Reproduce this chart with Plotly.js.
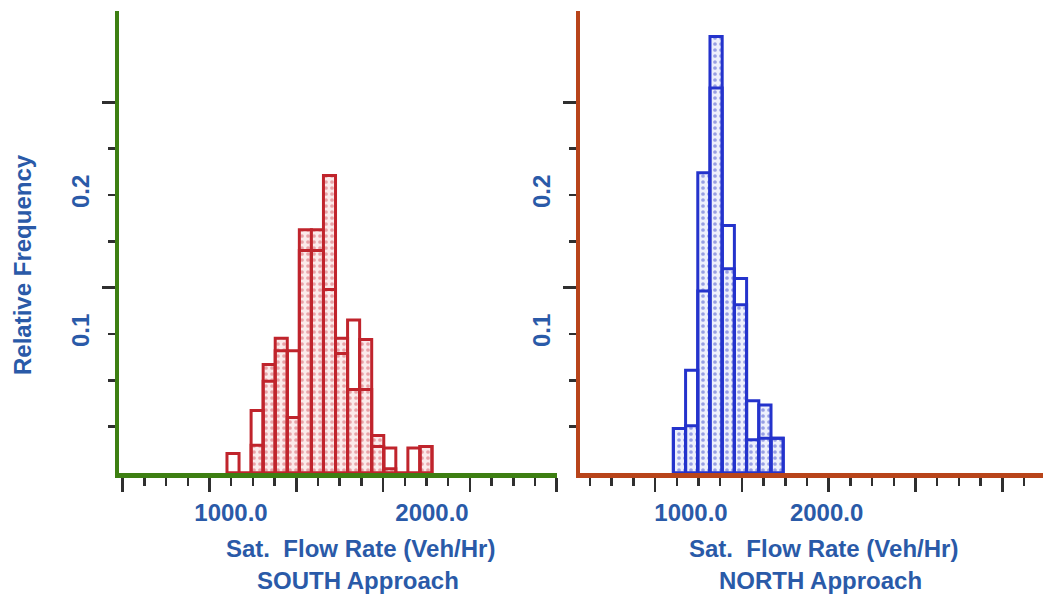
<!DOCTYPE html>
<html><head><meta charset="utf-8">
<script src="https://cdn.plot.ly/plotly-3.0.1.min.js"></script>
<style>html,body{margin:0;padding:0;background:#fff}#chart{width:1043px;height:597px}</style>
</head><body><div id="chart"></div>
<script>
// ---------------- data ----------------
// SOUTH approach: bin centres (veh/hr) and relative frequencies
const southBinCenters = [1010,1070,1130,1190,1250,1310,1370,1430,1490,1550,1610,1670,1730,1790,1850,1910,1970];
const southOutline    = [0.014,0,0.045,0.066,0.088,0.088,0.160,0.160,0.132,0.086,0.110,0.060,0.019,0.018,0,0.018,0.019];
const southStippled   = [0,0,0.020,0.078,0.097,0.040,0.175,0.175,0.214,0.097,0.060,0.096,0.027,0.003,0,0,0.019];
// NORTH approach
const northBinCenters = [915,1005,1095,1185,1275,1365,1455,1545,1635];
const northOutline    = [0.032,0.074,0.131,0.277,0.178,0.140,0.052,0.025,0.025];
const northStippled   = [0.032,0.034,0.216,0.314,0.147,0.121,0.024,0.049,0.025];
// tick labels
const xTickValues = [1000, 2000];
const xTickLabels = ['1000.0', '2000.0'];
const yTickValues = [0.1, 0.2];
const yTickLabels = ['0.1', '0.2'];
const yTitle = 'Relative Frequency';
const xTitle = 'Sat.\u00A0 Flow Rate (Veh/Hr)';
const southName = 'SOUTH Approach';
const northName = 'NORTH Approach';
const southBinWidth = 60;
const northBinWidth = 90;

// ---------------- style ----------------
const W = 1043, H = 597;
const fx = v => v / W;
const fy = v => 1 - v / H;
const txtColor = '#2a5aa8';
const bigFont = {family: '"Liberation Sans", Arial, sans-serif', size: 24, color: txtColor, weight: 700};
const green = '#3d7f12', rust = '#b8441a', tickCol = '#2f2f2f';
const red = '#c0242c', blue = '#2433cc';

function stippleTrace(x, y, w, xa, ya, line, fg, bg) {
  return {type: 'bar', x: x, y: y, width: w, xaxis: xa, yaxis: ya, hoverinfo: 'skip',
    marker: {color: bg, line: {color: line, width: 3},
      pattern: {shape: '.', fgcolor: fg, bgcolor: bg, size: 6, solidity: 0.3, fillmode: 'overlay'}}};
}
function outlineTrace(x, y, w, xa, ya, line) {
  return {type: 'bar', x: x, y: y, width: w, xaxis: xa, yaxis: ya, hoverinfo: 'skip',
    marker: {color: 'rgba(0,0,0,0)', line: {color: line, width: 3}}};
}
// empty carriers so the decorative tick axes get drawn
function carrier(xa, ya) {
  return {type: 'scatter', mode: 'markers', x: [], y: [], xaxis: xa, yaxis: ya, hoverinfo: 'skip', showlegend: false};
}

const traces = [
  stippleTrace(southBinCenters, southStippled, southBinWidth, 'x', 'y', red, '#d65a64', '#fbeaea'),
  outlineTrace(southBinCenters, southOutline, southBinWidth, 'x', 'y', red),
  stippleTrace(northBinCenters, northStippled, northBinWidth, 'x2', 'y2', blue, '#4250cc', '#eef0fc'),
  outlineTrace(northBinCenters, northOutline, northBinWidth, 'x2', 'y2', blue),
  carrier('x3', 'y'), carrier('x', 'y3'), carrier('x4', 'y2'), carrier('x2', 'y4')
];

// decorative tick marks (as in the original drawing)
function seq(a, b) { const r = []; for (let i = a; i <= b; i++) r.push(i); return r; }
const yMinor = seq(1, 8).map(k => k / 30);
const yMajor = [4 / 30, 8 / 30];
const sMinor = seq(0, 20), sMajor = [0, 4, 8, 12, 16, 20];
const nMinor = seq(0, 20), nMajor = [3, 7, 11, 15, 19];

const yRange = [0, 0.3324];
const yDomain = [fy(473), fy(11)];

function labelX(domain, range, anchor) {
  return {domain: domain, range: range, anchor: anchor, showline: false, showgrid: false, zeroline: false,
    tickmode: 'array', tickvals: xTickValues, ticktext: xTickLabels, ticks: '', tickfont: bigFont,
    ticklabelstandoff: 23, fixedrange: true};
}
function labelY(anchor) {
  return {domain: yDomain, range: yRange, anchor: anchor, showline: false, showgrid: false, zeroline: false,
    tickmode: 'array', tickvals: yTickValues, ticktext: yTickLabels, ticks: '', tickfont: bigFont,
    tickangle: -90, ticklabelstandoff: 24, fixedrange: true};
}
function tickX(over, anchor, range, majors, minors, col) {
  return {overlaying: over, anchor: anchor, side: 'bottom', range: range, showline: true, linecolor: col, linewidth: 5,
    showgrid: false, zeroline: false, showticklabels: false, tickmode: 'array', tickvals: majors,
    ticks: 'outside', ticklen: 14, tickwidth: 2.5, tickcolor: tickCol, fixedrange: true,
    minor: {tickmode: 'array', tickvals: minors, ticks: 'outside', ticklen: 8, tickwidth: 2.5, tickcolor: tickCol}};
}
function tickY(over, anchor, col) {
  return {overlaying: over, anchor: anchor, side: 'left', range: yRange, showline: true, linecolor: col, linewidth: 4,
    showgrid: false, zeroline: false, showticklabels: false, tickmode: 'array', tickvals: yMajor,
    ticks: 'outside', ticklen: 13, tickwidth: 2.5, tickcolor: tickCol, fixedrange: true,
    minor: {tickmode: 'array', tickvals: yMinor, ticks: 'outside', ticklen: 7, tickwidth: 2.5, tickcolor: tickCol}};
}

const layout = {
  width: W, height: H, margin: {l: 0, r: 0, t: 0, b: 0},
  paper_bgcolor: '#ffffff', plot_bgcolor: 'rgba(0,0,0,0)',
  showlegend: false, barmode: 'overlay', bargap: 0,
  xaxis: labelX([fx(119), fx(557)], [442.8, 2621.9], 'y'),
  yaxis: labelY('x'),
  xaxis2: labelX([fx(580), 1], [181.4, 3595.9], 'y2'),
  yaxis2: labelY('x2'),
  xaxis3: tickX('x', 'y', [-0.1705, 20.014], sMajor, sMinor, green),
  yaxis3: tickY('y', 'x', green),
  xaxis4: tickX('x2', 'y2', [-0.4608, 20.876], nMajor, nMinor, rust),
  yaxis4: tickY('y2', 'x2', rust),
  annotations: [
    {text: yTitle, xref: 'paper', yref: 'paper', x: fx(22), y: fy(265), textangle: -90, showarrow: false, font: bigFont, xanchor: 'center', yanchor: 'middle'},
    {text: xTitle, xref: 'paper', yref: 'paper', x: fx(360), y: fy(548), showarrow: false, font: bigFont, xanchor: 'center', yanchor: 'middle'},
    {text: southName, xref: 'paper', yref: 'paper', x: fx(358), y: fy(580), showarrow: false, font: bigFont, xanchor: 'center', yanchor: 'middle'},
    {text: xTitle, xref: 'paper', yref: 'paper', x: fx(823), y: fy(548), showarrow: false, font: bigFont, xanchor: 'center', yanchor: 'middle'},
    {text: northName, xref: 'paper', yref: 'paper', x: fx(820), y: fy(580), showarrow: false, font: bigFont, xanchor: 'center', yanchor: 'middle'}
  ]
};

Plotly.newPlot('chart', traces, layout, {displayModeBar: false, staticPlot: true});
</script>
</body></html>
